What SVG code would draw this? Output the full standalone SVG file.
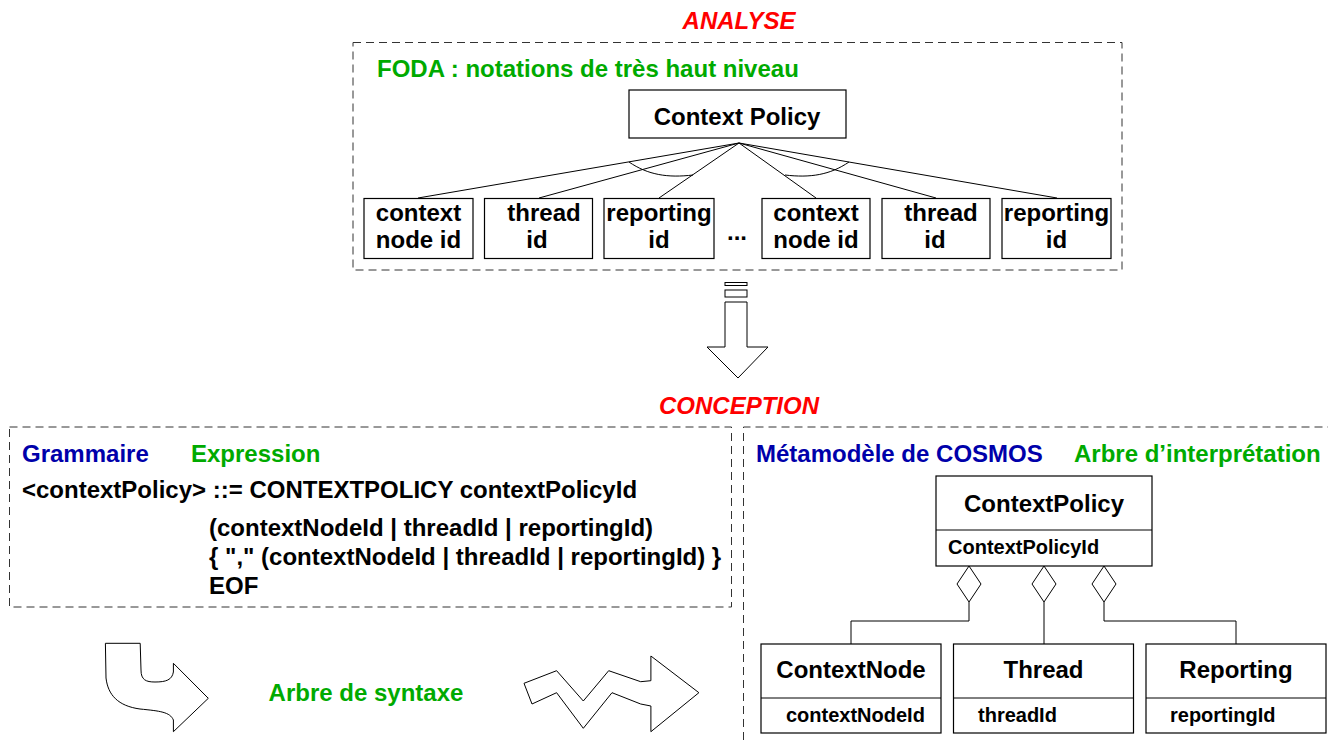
<svg xmlns="http://www.w3.org/2000/svg" width="1328" height="740" viewBox="0 0 1328 740">
<style>
text{font-family:"Liberation Sans",Arial,sans-serif;font-weight:bold;}
.t24{font-size:24px;fill:#000;}
.t20{font-size:20px;fill:#000;}
.red{font-size:24px;fill:#ff0000;font-style:italic;}
.green{fill:#00aa00;font-size:24px;}
.blue{fill:#0000aa;font-size:24px;}
.dash{fill:none;stroke:#333;stroke-width:1;stroke-dasharray:8 5;}
.box{fill:#fff;stroke:#000;stroke-width:1.2;}
.ln{fill:none;stroke:#000;stroke-width:1;}
.shape{fill:#fff;stroke:#000;stroke-width:1;}
</style>
<rect width="1328" height="740" fill="#fff"/>

<g id="titles">
<text class="red" x="739" y="29" text-anchor="middle">ANALYSE</text>
<text class="red" x="739" y="414" text-anchor="middle">CONCEPTION</text>
</g>

<g id="frames">
<rect class="dash" x="353" y="42.5" width="769" height="227.5"/>
<rect class="dash" x="9.5" y="427" width="722" height="180"/>
<path class="dash" d="M743.5 740 V427 H1328"/>
</g>

<g id="labels">
<text class="green" x="377" y="77">FODA : notations de très haut niveau</text>
<text class="blue" x="22" y="462">Grammaire</text>
<text class="green" x="191" y="462">Expression</text>
<text class="blue" x="756" y="462">Métamodèle de COSMOS</text>
<text class="green" x="1074" y="462">Arbre d’interprétation</text>
<text class="green" x="366" y="701" text-anchor="middle">Arbre de syntaxe</text>
</g>

<g id="grammar">
<text class="t24" x="22" y="498">&lt;contextPolicy&gt; ::= CONTEXTPOLICY contextPolicyId</text>
<text class="t24" x="209" y="536">(contextNodeId | threadId | reportingId)</text>
<text class="t24" x="209" y="565">{ "," (contextNodeId | threadId | reportingId) }</text>
<text class="t24" x="209" y="594">EOF</text>
</g>

<g id="connectors">
<path class="ln" d="M739 143 L418 198 M739 143 L539 198 M739 143 L659 198 M739 143 L816 198 M739 143 L936 198 M739 143 L1057 198"/>
<path class="ln" d="M629 162 C648 175 668 178 693 175"/>
<path class="ln" d="M849 162 C830 175 810 178 785 175"/>
<path class="ln" d="M969 602 V621 H851 V644 M1044 602 V644 M1104 602 V621 H1236 V644"/>
<path class="shape" d="M969 566 L981 584 L969 602 L957 584 Z M1044 566 L1056 584 L1044 602 L1032 584 Z M1104 566 L1116 584 L1104 602 L1092 584 Z"/>
</g>

<g id="node-contextpolicy">
<rect class="box" x="629" y="90" width="217" height="48"/>
<text class="t24" x="737" y="125" text-anchor="middle">Context Policy</text>
</g>
<g id="node-context1">
<rect class="box" x="364" y="198.5" width="109" height="60"/>
<text class="t24" x="418.5" y="221" text-anchor="middle">context</text>
<text class="t24" x="418.5" y="248" text-anchor="middle">node id</text>
</g>
<g id="node-thread1">
<rect class="box" x="484.5" y="198.5" width="108" height="60"/>
<text class="t24" x="544" y="221" text-anchor="middle">thread</text>
<text class="t24" x="537" y="248" text-anchor="middle">id</text>
</g>
<g id="node-reporting1">
<rect class="box" x="604" y="198.5" width="110" height="60"/>
<text class="t24" x="659" y="221" text-anchor="middle">reporting</text>
<text class="t24" x="659" y="248" text-anchor="middle">id</text>
</g>
<g id="ellipsis">
<text class="t24" x="737" y="240" text-anchor="middle">...</text>
</g>
<g id="node-context2">
<rect class="box" x="762" y="198.5" width="108" height="60"/>
<text class="t24" x="816" y="221" text-anchor="middle">context</text>
<text class="t24" x="816" y="248" text-anchor="middle">node id</text>
</g>
<g id="node-thread2">
<rect class="box" x="882" y="198.5" width="108" height="60"/>
<text class="t24" x="941" y="221" text-anchor="middle">thread</text>
<text class="t24" x="935" y="248" text-anchor="middle">id</text>
</g>
<g id="node-reporting2">
<rect class="box" x="1002" y="198.5" width="109" height="60"/>
<text class="t24" x="1056.5" y="221" text-anchor="middle">reporting</text>
<text class="t24" x="1056.5" y="248" text-anchor="middle">id</text>
</g>

<g id="arrow-down">
<rect class="shape" x="725" y="282.5" width="22" height="3"/>
<rect class="shape" x="725" y="290" width="22" height="7"/>
<path class="shape" d="M725 302 H747 V347 H768 L738 378 L707 347 H725 Z"/>
</g>

<g id="uml-contextpolicy">
<rect class="box" x="936" y="476" width="216" height="90"/>
<line class="ln" x1="936" y1="530" x2="1152" y2="530"/>
<text class="t24" x="1044" y="512" text-anchor="middle">ContextPolicy</text>
<text class="t20" x="948" y="554">ContextPolicyId</text>
</g>
<g id="uml-contextnode">
<rect class="box" x="761" y="644" width="180" height="89"/>
<line class="ln" x1="761" y1="698" x2="941" y2="698"/>
<text class="t24" x="851" y="678" text-anchor="middle">ContextNode</text>
<text class="t20" x="786" y="722">contextNodeId</text>
</g>
<g id="uml-thread">
<rect class="box" x="953.5" y="644" width="180" height="89"/>
<line class="ln" x1="953.5" y1="698" x2="1133.5" y2="698"/>
<text class="t24" x="1043.5" y="678" text-anchor="middle">Thread</text>
<text class="t20" x="978" y="722">threadId</text>
</g>
<g id="uml-reporting">
<rect class="box" x="1146" y="644" width="180" height="89"/>
<line class="ln" x1="1146" y1="698" x2="1326" y2="698"/>
<text class="t24" x="1236" y="678" text-anchor="middle">Reporting</text>
<text class="t20" x="1170" y="722">reportingId</text>
</g>

<g id="arrow-curved">
<path class="shape" d="M105.4 643.3 H140.2 L141 670 C141 680 146 682 155 682 C166 682 172 680 173.4 672 V663.3 L208.3 698.3 L173.4 731.7 V720 C170 712 160 711 140 709 C118 706 108 695 106 678 Z"/>
</g>
<g id="arrow-zigzag">
<path class="shape" d="M524 683.3 L556.6 670.7 L583.3 701 L608.7 670.7 L640.7 681.7 L650.9 680.7 V656 L698.9 692.7 L650.9 731.7 V706 L640.7 704 L612 692.7 L583.3 728.3 L556.6 692.7 L532 704 Z"/>
</g>
</svg>
